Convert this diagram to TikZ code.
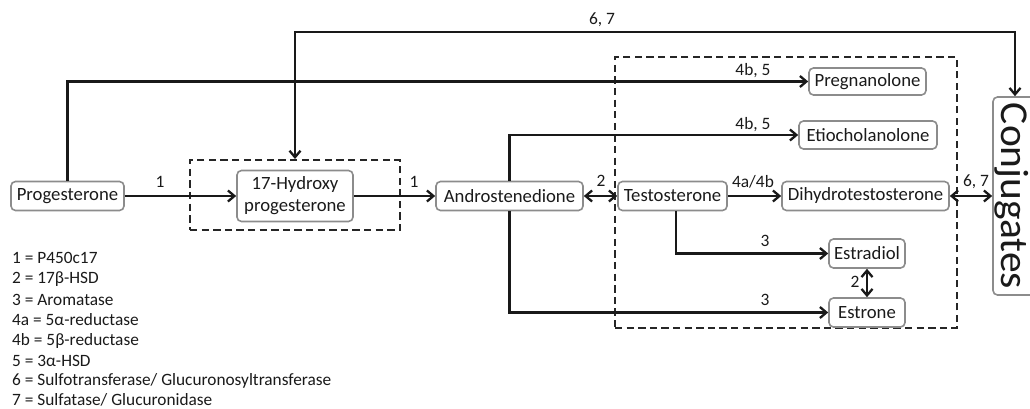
\documentclass[tikz,border=0pt]{standalone}
\usepackage{fontspec}
\setmainfont{Carlito}
\usetikzlibrary{arrows.meta}
\definecolor{txt}{HTML}{1A1A1A}
\definecolor{boxgray}{HTML}{8C8C8C}
\tikzset{
  box/.style={draw=boxgray, line width=1.6pt, rounded corners=4.5pt, inner sep=0pt,
    font=\fontsize{18.7}{22}\selectfont, text=txt, align=center},
  dbox/.style={draw=black!85, line width=2pt, dash pattern=on 7.3pt off 4.3pt, inner sep=0pt},
  arr/.style={draw=black!90, line width=2.3pt, -{Straight Barb[length=6.5pt,width=11pt]}},
  darr/.style={draw=black!90, line width=2.3pt, {Straight Barb[length=6.5pt,width=11pt]}-{Straight Barb[length=6.5pt,width=11pt]}},
  lab/.style={font=\fontsize{17.4}{20}\selectfont, text=txt, inner sep=0pt},
  leg/.style={font=\fontsize{17.3}{20}\selectfont, text=txt, inner sep=0pt, anchor=west},
}
\begin{document}
\begin{tikzpicture}[x=1pt,y=-1pt]
\useasboundingbox (0,0) rectangle (1030,409);
\clip (0,0) rectangle (1030,409);
% dashed boxes
\node[dbox, minimum width=210pt, minimum height=70pt] (dbox1) at (295,195) {};
\node[dbox, minimum width=342pt, minimum height=271pt] (dbox2) at (786,192.5) {};
% nodes
\node[box, minimum width=113pt, minimum height=29pt] (prog) at (67.5,196) {Progesterone};
\node[box, minimum width=116pt, minimum height=51pt] (oh) at (295,196) {17-Hydroxy\\progesterone};
\node[box, minimum width=147pt, minimum height=29pt] (andro) at (509.5,196) {Androstenedione};
\node[box, minimum width=109pt, minimum height=29pt] (testo) at (672.5,196) {Testosterone};
\node[box, minimum width=167pt, minimum height=29pt] (dht) at (865.5,196) {Dihydrotestosterone};
\node[box, minimum width=117pt, minimum height=27pt] (preg) at (867.5,81.5) {Pregnanolone};
\node[box, minimum width=138pt, minimum height=28pt] (etio) at (868,135) {Etiocholanolone};
\node[box, minimum width=76pt, minimum height=29pt] (e2) at (867,253.5) {Estradiol};
\node[box, minimum width=76pt, minimum height=29pt] (e1) at (867,312.5) {Estrone};
\node[box, rotate=-90, font=\fontsize{39.5}{44}\selectfont, minimum width=198pt, minimum height=80pt,
  text height=69pt, text depth=6pt] (conj) at (1033,196) {\scalebox{1.05}[1]{Conjugates}};
% main chain
\draw[arr] (prog.east) -- (oh.west);
\draw[arr] (oh.east) -- (andro.west);
\draw[darr] (andro.east) -- (testo.west);
\draw[arr] (testo.east) -- (dht.west);
\draw[darr] (dht.east) -- (dht.east -| conj.south);
% branches
\draw[arr] (prog.north) |- (preg.west);
\draw[arr] (andro.north) |- (etio.west);
\draw[arr] (andro.south) |- (e1.west);
\draw[arr] ([xshift=3.5pt]testo.south) |- (e2.west);
\draw[darr] (e2.south) -- (e1.north);
\coordinate (c67) at (1015,32);
\draw[darr] (dbox1.north) |- (c67) -- (c67 |- conj.west);
% labels
\node[lab] (l1a) at (160,182) {1};
\node[lab] (l1b) at (414,182) {1};
\node[lab] (l2a) at (601,181) {2};
\node[lab] (l4ab) at (753,182) {4a/4b};
\node[lab] (l67a) at (976,182) {6, 7};
\node[lab] (l45a) at (753,71) {4b, 5};
\node[lab] (l45b) at (753,125) {4b, 5};
\node[lab] (l67b) at (602,20) {6, 7};
\node[lab] (l3a) at (765,241) {3};
\node[lab] (l3b) at (765,300) {3};
\node[lab] (l2b) at (855,282) {2};
% legend
\node[leg] (g1) at (12,258) {1 = P450c17};
\node[leg] (g2) at (12,279) {2 = 17β-HSD};
\node[leg] (g3) at (12,299.5) {3 = Aromatase};
\node[leg] (g4) at (12,320) {4a = 5α-reductase};
\node[leg] (g5) at (12,340.5) {4b = 5β-reductase};
\node[leg] (g6) at (12,361) {5 = 3α-HSD};
\node[leg] (g7) at (12,381) {6 = Sulfotransferase/ Glucuronosyltransferase};
\node[leg] (g8) at (12,400) {7 = Sulfatase/ Glucuronidase};
\end{tikzpicture}
\end{document}
